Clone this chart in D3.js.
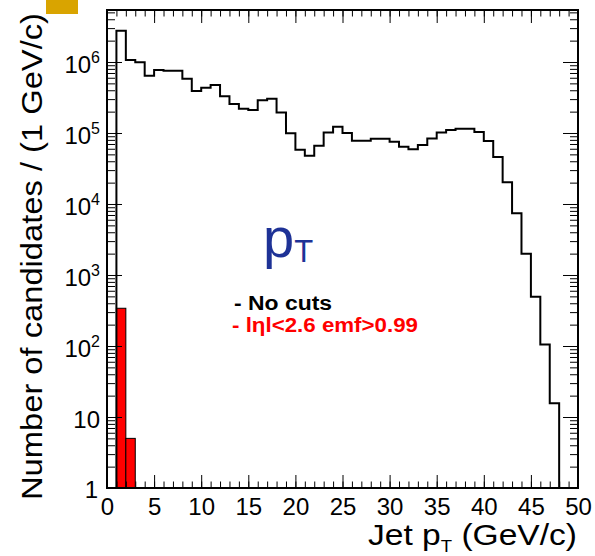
<!DOCTYPE html>
<html>
<head>
<meta charset="utf-8">
<script src="https://cdn.jsdelivr.net/npm/d3@7"></script>
<style>
  body { margin: 0; background: #fff; }
  svg { display: block; font-family: 'Liberation Sans', Arial, sans-serif; }
</style>
</head>
<body>
<svg width="595" height="556"></svg>
<script>
// bin low edges (1 GeV/c bins from 0 to 50)
const binLow = d3.range(0, 50);

// "No cuts" counts per bin
const noCuts = [
  0, 2.76e6, 1.07e6, 9.9e5, 6.4e5, 7.7e5, 7.55e5, 7.5e5, 5.8e5, 3.9e5,
  4.35e5, 4.75e5, 3.3e5, 2.56e5, 2.2e5, 2.1e5, 2.9e5, 3.04e5, 1.95e5, 9.9e4,
  5.8e4, 4.8e4, 6.6e4, 1.02e5, 1.22e5, 1.0e5, 7.8e4, 7.8e4, 8.3e4, 8.3e4,
  7.55e4, 6.4e4, 5.9e4, 6.8e4, 8.4e4, 1.02e5, 1.1e5, 1.15e5, 1.15e5, 1.03e5,
  7.7e4, 4.6e4, 2.03e4, 7.4e3, 2.0e3, 495, 105, 15.6, 0, 0
];

// |eta|<2.6 emf>0.99 : only two filled bins
const cutLow = [1, 2];
const cutCounts = [340, 5];

const xMajor = [0, 5, 10, 15, 20, 25, 30, 35, 40, 45, 50];
const yDecades = [1, 10, 1e2, 1e3, 1e4, 1e5, 1e6];

const svg = d3.select('svg');

const x = d3.scaleLinear().domain([0, 50]).range([107, 578]);
const y = d3.scaleLog().domain([1, 5.4e6]).range([488, 10]);

// gold tag in the corner
svg.append('rect')
  .attr('x', 46).attr('y', 0).attr('width', 32).attr('height', 14)
  .attr('fill', '#d9a400');

// red histogram
svg.append('g')
  .selectAll('rect')
  .data(cutLow.map((b, i) => ({ b, v: cutCounts[i] })))
  .join('rect')
  .attr('x', (d) => x(d.b))
  .attr('width', (d) => x(d.b + 1) - x(d.b))
  .attr('y', (d) => y(d.v))
  .attr('height', (d) => y(1) - y(d.v))
  .attr('fill', '#ff0000')
  .attr('stroke', '#000')
  .attr('stroke-width', 1);

// black step histogram
const pts = binLow.map((b, i) => [b, noCuts[i]]);
pts.push([50, noCuts[49]]);
const yv = (v) => (v > 0 ? y(v) : y(1));
svg.append('path')
  .attr('d', d3.line().x((d) => x(d[0])).y((d) => yv(d[1])).curve(d3.curveStepAfter)(pts))
  .attr('fill', 'none')
  .attr('stroke', '#000')
  .attr('stroke-width', 2);

// axes, ticks inside the frame
const yMinor = [];
for (let e = 0; e < 7; e++) {
  for (let m = 2; m <= 9; m++) {
    const v = m * Math.pow(10, e);
    if (v <= 5.4e6) yMinor.push(v);
  }
}

function styleAxis(g) {
  g.select('.domain').remove();
  g.selectAll('.tick line').attr('stroke', '#000').attr('stroke-width', 1);
}

svg.append('g').attr('transform', 'translate(0,488)')
  .call(d3.axisBottom(x).tickValues(d3.range(0, 51)).tickSize(-6.5).tickFormat(''))
  .call(styleAxis);
svg.append('g').attr('transform', 'translate(0,488)')
  .call(d3.axisBottom(x).tickValues(xMajor).tickSize(-13).tickPadding(8).tickFormat(d3.format('d')))
  .call(styleAxis)
  .call((g) => g.selectAll('text')
    .attr('font-size', 24).attr('fill', '#000').attr('dy', null).attr('y', 27));

svg.append('g').attr('transform', 'translate(0,10)')
  .call(d3.axisTop(x).tickValues(d3.range(0, 51)).tickSize(-6.5).tickFormat(''))
  .call(styleAxis);
svg.append('g').attr('transform', 'translate(0,10)')
  .call(d3.axisTop(x).tickValues(xMajor).tickSize(-13).tickFormat(''))
  .call(styleAxis);

svg.append('g').attr('transform', 'translate(107,0)')
  .call(d3.axisLeft(y).tickValues(yMinor).tickSize(-8).tickFormat(''))
  .call(styleAxis);
svg.append('g').attr('transform', 'translate(107,0)')
  .call(d3.axisLeft(y).tickValues(yDecades).tickSize(-15).tickFormat(''))
  .call(styleAxis);
svg.append('g').attr('transform', 'translate(578,0)')
  .call(d3.axisRight(y).tickValues(yMinor).tickSize(-8).tickFormat(''))
  .call(styleAxis);
svg.append('g').attr('transform', 'translate(578,0)')
  .call(d3.axisRight(y).tickValues(yDecades).tickSize(-15).tickFormat(''))
  .call(styleAxis);

// y tick labels with exponents
const yLab = svg.append('g').attr('font-size', 24).attr('text-anchor', 'end');
yDecades.forEach((v) => {
  const e = Math.round(Math.log10(v));
  const t = yLab.append('text').attr('x', 100).attr('y', y(v) + 11);
  if (e === 0) {
    t.attr('x', 98).attr('y', 498).text('1');
  } else if (e === 1) {
    t.text('10');
  } else {
    t.append('tspan').text('10');
    t.append('tspan').attr('font-size', 16).attr('dy', -10).text(e);
  }
});

// frame
svg.append('rect')
  .attr('x', 107).attr('y', 10).attr('width', 471).attr('height', 478)
  .attr('fill', 'none').attr('stroke', '#000').attr('stroke-width', 2);

// axis titles
const xt = svg.append('text')
  .attr('x', 577).attr('y', 545).attr('text-anchor', 'end')
  .attr('font-size', 29)
  .attr('textLength', 209).attr('lengthAdjust', 'spacingAndGlyphs');
xt.append('tspan').text('Jet p');
xt.append('tspan').attr('font-size', 16).attr('dy', 7).text('T');
xt.append('tspan').attr('dy', -7).text(' (GeV/c)');

svg.append('text')
  .attr('transform', 'translate(42,13) rotate(-90)')
  .attr('text-anchor', 'end')
  .attr('font-size', 29)
  .attr('textLength', 487).attr('lengthAdjust', 'spacingAndGlyphs')
  .text('Number of candidates / (1 GeV/c)');

// big pT label
const pt = svg.append('text')
  .attr('x', 263).attr('y', 257)
  .attr('fill', '#1e3296')
  .attr('font-size', 56);
pt.append('tspan').text('p');
pt.append('tspan').attr('font-size', 31).attr('dy', 5).text('T');

// legend
svg.append('text')
  .attr('x', 234).attr('y', 310)
  .attr('font-size', 20).attr('font-weight', 'bold')
  .attr('textLength', 98).attr('lengthAdjust', 'spacingAndGlyphs')
  .text('- No cuts');
svg.append('text')
  .attr('x', 232).attr('y', 332)
  .attr('font-size', 20).attr('font-weight', 'bold').attr('fill', '#ff0000')
  .attr('textLength', 186).attr('lengthAdjust', 'spacingAndGlyphs')
  .text('- lηl<2.6 emf>0.99');
</script>
</body>
</html>
